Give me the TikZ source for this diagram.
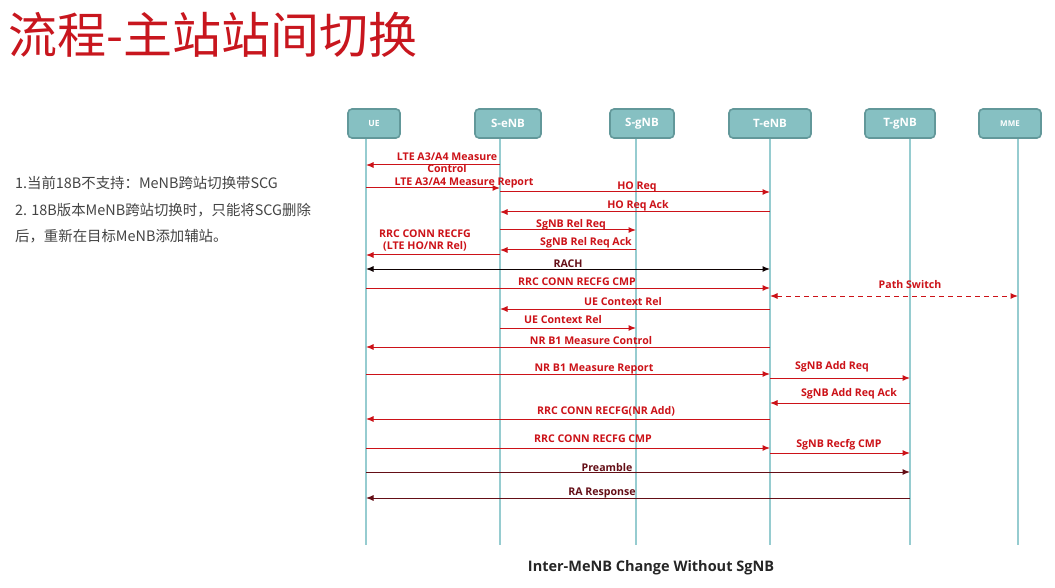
\documentclass[tikz,border=0pt]{standalone}
\usepackage{fontspec}
\setmainfont{Open Sans}
\newfontfamily\cjk{Noto Sans CJK SC}
\usetikzlibrary{positioning, arrows.meta, calc}
\definecolor{boxteal}{RGB}{134,192,194}
\definecolor{boxtealD}{RGB}{98,152,154}
\definecolor{lifeteal}{RGB}{150,204,208}
\definecolor{msgred}{RGB}{204,18,24}
\definecolor{msgdark}{RGB}{100,14,22}
\definecolor{titlered}{RGB}{200,22,30}
\definecolor{notegray}{RGB}{68,68,68}
\tikzset{
  ent/.style={rounded corners=4pt, draw=boxtealD, fill=boxteal, line width=1.6pt,
              text=white, font=\bfseries, minimum height=29pt, inner sep=2pt},
  life/.style={draw=lifeteal, line width=1.4pt},
  msg/.style={-{Latex[length=7.5pt, width=6pt]}, draw=msgred, line width=1pt},
  msgd/.style={msg, draw=msgdark},
  mlbl/.style={text=msgred, font=\bfseries\fontsize{10.6}{12}\selectfont,
               align=center, inner sep=0pt},
  dlbl/.style={mlbl, text=msgdark},
  note/.style={anchor=west, text=notegray, font=\cjk\fontsize{14.4}{16}\selectfont, inner sep=0pt},
}

\begin{document}
\begin{tikzpicture}[x=1pt, y=-1pt]
  \useasboundingbox[fill=white] (0,0) rectangle (1055,588);
  % Title and notes
  \node[anchor=west, text=titlered, font=\cjk\fontsize{49}{53}\selectfont, inner sep=0pt]
    (title) at (8,35) {流程-主站站间切换};
  \node[note] (note1) at (15,183) {1.当前18B不支持：MeNB跨站切换带SCG};
  \node[note] (note2) at (15,210) {2. 18B版本MeNB跨站切换时，只能将SCG删除};
  \node[note] (note3) at (15,236) {后，重新在目标MeNB添加辅站。};
  % Entities
  \node[ent, minimum width=52pt, font=\bfseries\fontsize{8.5}{9}\selectfont] (ue) at (374,123.5) {UE};
  \node[ent, minimum width=66pt, font=\bfseries\fontsize{11.5}{12}\selectfont] (senb) at (508,123.5) {S-eNB};
  \node[ent, minimum width=64pt, font=\bfseries\fontsize{11.5}{12}\selectfont] (sgnb) at (642,123.5) {S-gNB};
  \node[ent, minimum width=82pt, font=\bfseries\fontsize{11.5}{12}\selectfont] (tenb) at (770,123.5) {T-eNB};
  \node[ent, minimum width=70pt, font=\bfseries\fontsize{11.5}{12}\selectfont] (tgnb) at (900,123.5) {T-gNB};
  \node[ent, minimum width=62pt, font=\bfseries\fontsize{8}{9}\selectfont] (mme) at (1010,123.5) {MME};
  % Lifelines
  \coordinate (ueL) at (366,545);
  \coordinate (senbL) at (500,545);
  \coordinate (sgnbL) at (636,545);
  \coordinate (tenbL) at (770,545);
  \coordinate (tgnbL) at (910,545);
  \coordinate (mmeL) at (1018,545);
  \draw[life] (ueL |- ue.south) -- (ueL);
  \draw[life] (senbL |- senb.south) -- (senbL);
  \draw[life] (sgnbL |- sgnb.south) -- (sgnbL);
  \draw[life] (tenbL |- tenb.south) -- (tenbL);
  \draw[life] (tgnbL |- tgnb.south) -- (tgnbL);
  \draw[life] (mmeL |- mme.south) -- (mmeL);
  % Handover to T-eNB
  \draw[msg] (senbL |- 0,165) -- (ueL |- 0,165);
  \node[mlbl, text=msgred] (lA3ctrl) at (447,163) {LTE A3/A4 Measure\\Control};
  \draw[msg] (ueL |- 0,188) -- (senbL |- 0,188);
  \node[mlbl] (lA3rep) at (464,183) {LTE A3/A4 Measure Report};
  \draw[msg] (senbL |- 0,192) -- (tenbL |- 0,192);
  \node[mlbl] (lHoReq) at (637,187) {HO Req};
  \draw[msg] (tenbL |- 0,212) -- (senbL |- 0,212);
  \node[mlbl] (lHoAck) at (638,206) {HO Req Ack};
  \draw[msg] (senbL |- 0,230) -- (sgnbL |- 0,230);
  \node[mlbl] (lRelReq) at (571,225) {SgNB Rel Req};
  \draw[msg] (sgnbL |- 0,250) -- (senbL |- 0,250);
  \node[mlbl] (lRelAck) at (586,243) {SgNB Rel Req Ack};
  \draw[msg] (senbL |- 0,255) -- (ueL |- 0,255);
  \node[mlbl] (lRecfg) at (425,240.5) {RRC CONN RECFG\\(LTE HO/NR Rel)};
  \draw[msgd, {Latex[length=7.5pt, width=6pt]}-{Latex[length=7.5pt, width=6pt]}, draw=black!85!msgdark]
    (ueL |- 0,269) -- (tenbL |- 0,269);
  \node[dlbl] (lRach) at (568,264) {RACH};
  \draw[msg] (ueL |- 0,288) -- (tenbL |- 0,288);
  \node[mlbl] (lRecfgCmp) at (577,282) {RRC CONN RECFG CMP};
  \draw[msg, {Latex[length=7.5pt, width=6pt]}-{Latex[length=7.5pt, width=6pt]}, dash pattern=on 5pt off 4pt]
    (tenbL |- 0,296) -- (mmeL |- 0,296);
  \node[mlbl] (lPath) at (910,285) {Path Switch};
  \draw[msg] (tenbL |- 0,309) -- (senbL |- 0,309);
  \node[mlbl] (lCtxRel) at (623,302) {UE Context Rel};
  \draw[msg] (senbL |- 0,328) -- (sgnbL |- 0,328);
  \node[mlbl] (lCtxRel2) at (563,320) {UE Context Rel};
  % SgNB addition at T-eNB
  \draw[msg] (tenbL |- 0,347) -- (ueL |- 0,347);
  \node[mlbl] (lB1ctrl) at (591,341) {NR B1 Measure Control};
  \draw[msg] (ueL |- 0,374) -- (tenbL |- 0,374);
  \node[mlbl] (lB1rep) at (594,369) {NR B1 Measure Report};
  \draw[msg] (tenbL |- 0,378) -- (tgnbL |- 0,378);
  \node[mlbl] (lAddReq) at (832,367) {SgNB Add Req};
  \draw[msg] (tgnbL |- 0,403) -- (tenbL |- 0,403);
  \node[mlbl] (lAddAck) at (849,394) {SgNB Add Req Ack};
  \draw[msg] (tenbL |- 0,419) -- (ueL |- 0,419);
  \node[mlbl] (lNrAdd) at (606,411) {RRC CONN RECFG(NR Add)};
  \draw[msg] (ueL |- 0,448) -- (tenbL |- 0,448);
  \node[mlbl] (lNrCmp) at (593,439) {RRC CONN RECFG CMP};
  \draw[msg] (tenbL |- 0,453) -- (tgnbL |- 0,453);
  \node[mlbl] (lRecfgSg) at (839,445) {SgNB Recfg CMP};
  \draw[msgd] (ueL |- 0,472) -- (tgnbL |- 0,472);
  \node[dlbl] (lPre) at (607,468) {Preamble};
  \draw[msgd] (tgnbL |- 0,498) -- (ueL |- 0,498);
  \node[dlbl] (lRar) at (602,493) {RA Response};
  % Caption
  \node[font=\bfseries\fontsize{14.5}{16}\selectfont, text=black!85] (cap) at (651,568)
    {Inter-MeNB Change Without SgNB};
\end{tikzpicture}
\end{document}
